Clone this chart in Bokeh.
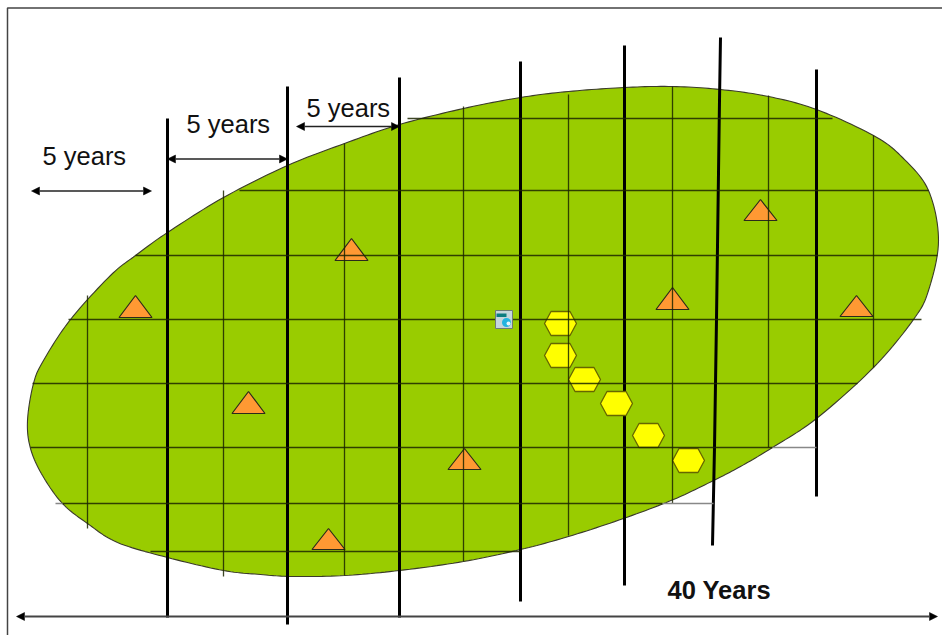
from bokeh.plotting import figure
from bokeh.models import Arrow, NormalHead, Range1d
from bokeh.core.properties import value
from bokeh.embed import file_html
from bokeh.resources import INLINE

# field outline, read clockwise from the picture
field_x = [27, 33, 43, 70, 110, 135, 167, 223, 287, 344, 399, 463, 520, 568, 624, 672, 720, 768,
           816, 873, 902, 928, 938, 928, 913, 873, 816, 772, 740, 713, 673, 623, 568,
           520, 463, 399, 344, 293, 260, 223, 167, 117, 87, 62, 42, 30]
field_y = [420, 383, 360, 319, 275, 255, 232, 197, 165, 143, 124, 108, 97, 91, 87, 86, 89, 96,
           109, 135, 157, 190, 240, 290, 319, 367, 418, 447, 466, 480, 499, 518, 536,
           549, 561, 570, 575, 576, 574, 570, 557, 542, 523, 503, 475, 448]

# thin grid
thin_v_x = [87, 223, 344, 463, 568, 672, 768, 873]
thin_v_top = [295, 190, 143, 106, 94, 86, 95, 135]
thin_v_bottom = [528, 576, 575, 561, 535, 503, 447, 367]
thin_h_y = [118, 190, 255, 319, 383, 447, 503, 551]
thin_h_left = [407, 239, 135, 68, 32, 30, 62, 150]
thin_h_right = [832, 928, 937, 921, 857, 772, 662, 520]

# pale parts of the grid, outside the field
pale_h_y = [447, 503, 503]
pale_h_left = [772, 662, 55]
pale_h_right = [816, 713, 62]

# heavy five-year lines
heavy_xs = [[167, 167], [287, 287], [399, 399], [520, 520], [624, 624], [720, 719, 716, 714, 712], [816, 816]]
heavy_ys = [[118, 617], [86, 624], [77, 617], [61, 601], [45, 585], [37, 100, 319, 447, 545], [69, 496]]

# markers
tri_x = [135, 351, 248, 464, 328, 672, 760, 856]
tri_apex = [295, 238, 391, 448, 528, 287, 199, 295]
tri_base = [317, 260, 413, 469, 549, 309, 220, 316]
hex_x = [560, 560, 584, 616, 648, 688]
hex_y = [323, 355, 379, 403, 435, 460]

# interval arrows and labels
span_left = [31, 167, 296]
span_right = [151, 287, 399]
span_y = [190.5, 158.5, 126]
label_x = [42, 186, 306]
label_y = [155, 123, 107]
label_text = ["5 years", "5 years", "5 years"]
total_text = "40 Years"
total_x = [667]
total_y = [589]

TW, HW, HH, HT = 16.5, 16, 12, 9.5


def smooth(xs, ys, steps=12):
    """Closed Catmull-Rom curve through the outline points, for drawing only."""
    n, out_x, out_y = len(xs), [], []
    for i in range(n):
        for s in range(steps):
            t = s / steps
            for src, out in ((xs, out_x), (ys, out_y)):
                a, b, c, d = src[i - 1], src[i], src[(i + 1) % n], src[(i + 2) % n]
                out.append(0.5 * (2 * b + (c - a) * t + (2 * a - 5 * b + 4 * c - d) * t ** 2
                                  + (3 * b - a - 3 * c + d) * t ** 3))
    return out_x, out_y


p = figure(width=942, height=635, output_backend="svg", toolbar_location=None,
           x_range=Range1d(0, 942), y_range=Range1d(635, 0), x_axis_type=None, y_axis_type=None,
           min_border=0, outline_line_color=None, background_fill_color="white")
p.grid.visible = False

# frame
p.line([942, 7, 7], [7.5, 7.5, 635], line_color="#444444", line_width=1.5)

outline_x, outline_y = smooth(field_x, field_y)
p.patch(outline_x, outline_y, fill_color="#99CC00", line_color="#3a3a2a", line_width=1.1)
p.multi_line(heavy_xs, heavy_ys, line_color="black", line_width=3)

p.patches([[x - TW, x, x + TW] for x in tri_x],
          [[b, a, b] for a, b in zip(tri_apex, tri_base)],
          fill_color="#FF9933", line_color="#2b2b1a", line_width=1.2)
p.patches([[x - HW, x - HT, x + HT, x + HW, x + HT, x - HT] for x in hex_x],
          [[y, y - HH, y - HH, y, y + HH, y + HH] for y in hex_y],
          fill_color="#FFFF00", line_color="#666600", line_width=1.3)

# thin grid, over the markers
p.segment(thin_v_x, thin_v_top, thin_v_x, thin_v_bottom, line_color="#1c2600", line_width=1.3, line_alpha=0.85)
p.segment(thin_h_left, thin_h_y, thin_h_right, thin_h_y, line_color="#1c2600", line_width=1.3, line_alpha=0.85)
p.segment(pale_h_left, pale_h_y, pale_h_right, pale_h_y, line_color="#888888", line_width=1.3)

# document icon
p.quad(left=[495], right=[512], top=[310], bottom=[328], fill_color="#c4d6dc", line_color="#6d7a78", line_width=1)
p.quad(left=[496], right=[506], top=[313], bottom=[316.5], fill_color="#0c7c80", line_color=None)
p.scatter([506], [322], size=9, marker="circle", fill_color="#22b4e0", line_color=None)
p.scatter([508], [323], size=4, marker="circle", fill_color="#e8f6fa", line_color=None)

# arrows
for x0, x1, y in zip(span_left, span_right, span_y):
    p.add_layout(Arrow(x_start=x0, x_end=x1, y_start=y, y_end=y, line_color="#222222", line_width=1.6,
                       start=NormalHead(size=8, fill_color="black", line_color="black", line_width=0.5),
                       end=NormalHead(size=8, fill_color="black", line_color="black", line_width=0.5)))
p.add_layout(Arrow(x_start=16, x_end=937, y_start=616, y_end=616, line_color="#444444", line_width=2,
                   start=NormalHead(size=8, fill_color="black", line_color="black", line_width=0.5),
                   end=NormalHead(size=8, fill_color="black", line_color="black", line_width=0.5)))

p.text(label_x, label_y, text=label_text, text_font=value("Liberation Sans"), text_font_size="25.5px",
       text_color="#111111", text_baseline="alphabetic", text_align="left")
p.text(total_x, total_y, text=[total_text], text_font=value("Liberation Sans"), text_font_size="25.5px",
       text_font_style="bold", text_color="#111111", text_baseline="alphabetic", text_align="left")

open("out.html", "w").write(file_html(p, INLINE))
